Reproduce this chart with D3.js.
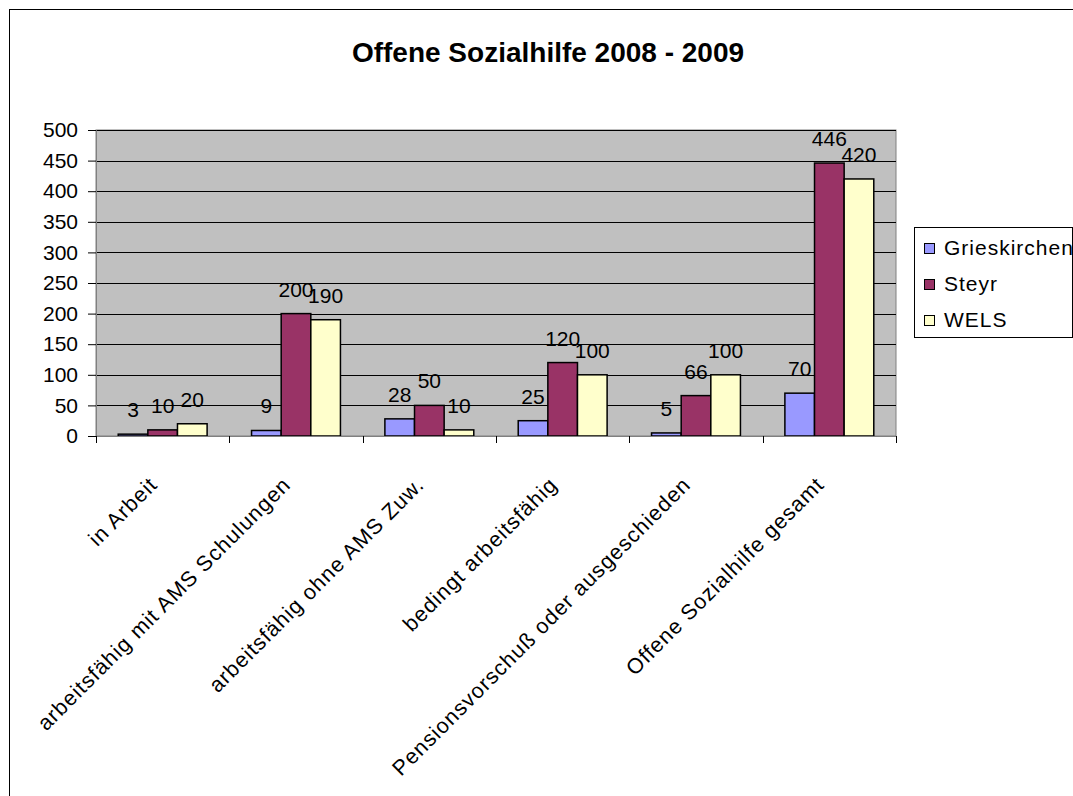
<!DOCTYPE html>
<html><head><meta charset="utf-8">
<script src="https://cdn.jsdelivr.net/npm/d3@7"></script>
<style>
html,body{margin:0;padding:0;background:#fff;}
text{font-family:Arial,"Liberation Sans",sans-serif;fill:#000;}
</style></head>
<body>
<svg id="chart" width="1073" height="796"></svg>
<script>
const categories = ["in Arbeit","arbeitsfähig mit AMS Schulungen","arbeitsfähig ohne AMS Zuw.","bedingt arbeitsfähig","Pensionsvorschuß oder ausgeschieden","Offene Sozialhilfe gesamt"];
const seriesNames = ["Grieskirchen","Steyr","WELS"];
const grieskirchen = [3,9,28,25,5,70];
const steyr = [10,200,50,120,66,446];
const wels = [20,190,10,100,100,420];
const yTicks = [0,50,100,150,200,250,300,350,400,450,500];
const colors = ["#9999FF","#993366","#FFFFCC"];
const title = "Offene Sozialhilfe 2008 - 2009";

const seriesValues = [grieskirchen, steyr, wels];
const svg = d3.select("#chart");

// outer frame
svg.append("rect").attr("x",9.5).attr("y",9.5).attr("width",1200).attr("height",1000)
  .attr("fill","#fff").attr("stroke","#000").attr("stroke-width",1);

const L=96, R=896, T=130, B=436;
const x0 = d3.scaleBand().domain(categories).range([L,R]).paddingInner(0).paddingOuter(0);
const x1 = d3.scaleBand().domain(seriesNames).range([0,x0.bandwidth()]).paddingInner(0).paddingOuter(0.75);
const y = d3.scaleLinear().domain([0,500]).range([B,T]);

// plot background
svg.append("rect").attr("x",L).attr("y",T).attr("width",R-L).attr("height",B-T)
  .attr("fill","#C0C0C0").attr("stroke","#808080").attr("stroke-width",1);

// gridlines
svg.append("g").selectAll("line").data(yTicks.filter(d=>d>0)).join("line")
  .attr("x1",L).attr("x2",R).attr("y1",d=>Math.round(y(d))+0.5).attr("y2",d=>Math.round(y(d))+0.5)
  .attr("stroke","#000").attr("stroke-width",1);

// y axis
const yAxis = d3.axisLeft(y).tickValues(yTicks).tickSize(8).tickPadding(10).tickFormat(d3.format("d"));
const gy = svg.append("g").attr("transform",`translate(${L},0)`).call(yAxis);
gy.select(".domain").attr("stroke","#808080");
gy.selectAll(".tick line").attr("stroke","#000");
gy.selectAll(".tick text").attr("font-size","21px").attr("font-family","Arial, 'Liberation Sans', sans-serif").attr("fill","#000");

// bars
const groups = svg.append("g").selectAll("g").data(categories).join("g")
  .attr("transform",d=>`translate(${x0(d)},0)`);
groups.selectAll("rect").data((c,i)=>seriesNames.map((s,j)=>({s,v:seriesValues[j][i],j}))).join("rect")
  .attr("x",d=>x1(d.s)).attr("width",x1.bandwidth())
  .attr("y",d=>y(d.v)).attr("height",d=>B-y(d.v))
  .attr("fill",d=>colors[d.j]).attr("stroke","#000").attr("stroke-width",1.5);
groups.selectAll("text").data((c,i)=>seriesNames.map((s,j)=>({s,v:seriesValues[j][i],j}))).join("text")
  .attr("x",d=>x1(d.s)+x1.bandwidth()/2).attr("y",d=>y(d.v)-17)
  .attr("text-anchor","middle").attr("font-size","21px").text(d=>d.v);

// x axis
const xAxis = d3.axisBottom(x0).tickSize(0).tickFormat(d=>d);
const gx = svg.append("g").attr("transform",`translate(0,${B})`).call(xAxis);
gx.select(".domain").attr("stroke","#808080");
gx.selectAll(".tick text").remove();
// category boundary ticks
const bounds = categories.map(c=>x0(c)).concat([R]);
svg.append("g").selectAll("line").data(bounds).join("line")
  .attr("x1",d=>Math.round(d)+0.5).attr("x2",d=>Math.round(d)+0.5).attr("y1",B).attr("y2",B+7)
  .attr("stroke","#000");
svg.append("g").selectAll("text").data(categories).join("text")
  .attr("transform",d=>`translate(${x0(d)+x0.bandwidth()/2-4},486) rotate(-45)`)
  .attr("text-anchor","end").attr("font-size","21.5px").attr("letter-spacing","1px").text(d=>d);

// title
svg.append("text").attr("x",548).attr("y",62).attr("text-anchor","middle")
  .attr("font-size","28px").attr("font-weight","bold").text(title);

// legend
const lg = svg.append("g");
lg.append("rect").attr("x",914.5).attr("y",227.5).attr("width",158).attr("height",110)
  .attr("fill","#fff").attr("stroke","#000");
const items = lg.selectAll("g").data(seriesNames).join("g")
  .attr("transform",(d,i)=>`translate(0,${243+i*36})`);
items.append("rect").attr("x",924.5).attr("y",0.5).attr("width",10).attr("height",10)
  .attr("fill",(d,i)=>colors[i]).attr("stroke","#000");
items.append("text").attr("x",944).attr("y",12).attr("font-size","21px").attr("letter-spacing","1px").text(d=>d);
</script>
</body></html>
